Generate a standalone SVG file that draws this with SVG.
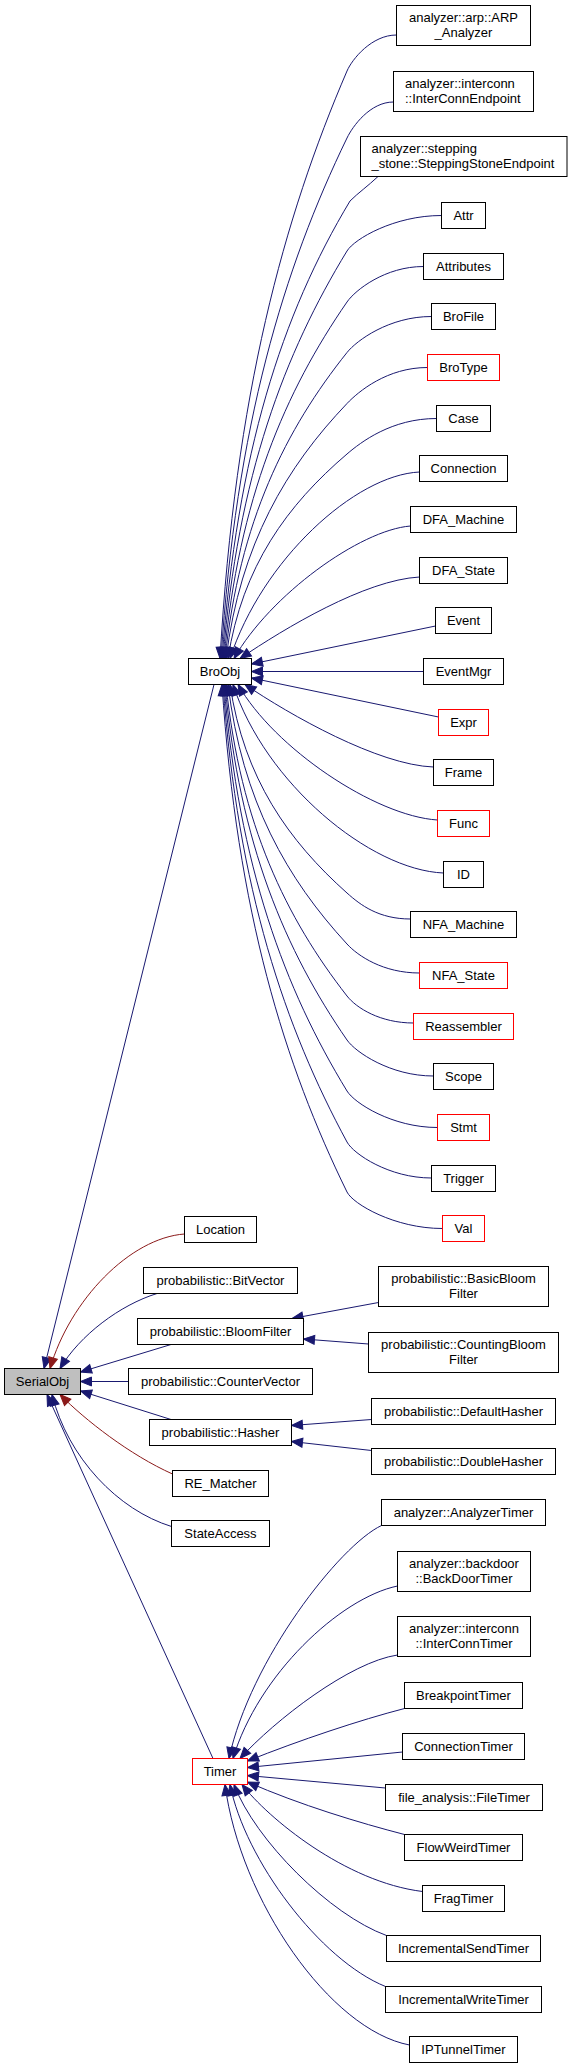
<svg xmlns="http://www.w3.org/2000/svg" width="569" height="2069" viewBox="0 0 569 2069">
<style>
rect{fill:#fff;stroke:#000;stroke-width:1}
.red rect{stroke:#ff0000}
.cur rect{fill:#bfbfbf}
text{font-family:"Liberation Sans",Arial,Helvetica,sans-serif;font-size:13px;fill:#000;text-anchor:middle}
text.l{text-anchor:start}
#edges path{fill:none;stroke:#191970;stroke-width:1;marker-end:url(#ab)}
#edges path.p{stroke:#8b1a1a;marker-end:url(#ar)}
</style>
<defs>
<marker id="ab" markerUnits="userSpaceOnUse" markerWidth="13" markerHeight="11" refX="11.5" refY="5" orient="auto" overflow="visible"><path d="M0.5,0.5 L11.5,5 L0.5,9.5 z" fill="#191970" stroke="#191970"/></marker>
<marker id="ar" markerUnits="userSpaceOnUse" markerWidth="13" markerHeight="11" refX="11.5" refY="5" orient="auto" overflow="visible"><path d="M0.5,0.5 L11.5,5 L0.5,9.5 z" fill="#8b1a1a" stroke="#8b1a1a"/></marker>
</defs>
<rect x="0" y="0" width="569" height="2069" style="fill:#fff;stroke:none"/>
<g id="edges">
<path d="M396.5,35 C371.75,35 352.2,59 347,71 C283.9,217.75 235.2,393.8 220,658.5"/>
<path d="M393.5,102 C370.25,102 352.8,126 347,138 C284,268 236.1,424 221,658.5"/>
<path d="M378,176.5 C368,186 358,193 350,201 C281.6,315 237.4,452.3 222,658.5"/>
<path d="M441.5,215.5 C394.25,215.5 354.3,239 347,251 C284.9,352.75 237.9,474.85 223,658.5"/>
<path d="M423.5,266.5 C385.25,266.5 355.3,290 347,302 C285.6,391 238.8,497.8 224,658.5"/>
<path d="M431.5,316.5 C389.25,316.5 356.6,340.5 347,352.5 C286,429 239.6,520.7 225,658.5"/>
<path d="M427.5,367.5 C387.25,367.5 358.4,391.5 347,403.5 C286.5,467 240.5,543.4 226,658.5"/>
<path d="M436.5,418.5 C391.75,418.5 361,442 347,454 C287.3,505 242.3,566.2 228,658.5"/>
<path d="M419.5,472 C355,475 262,560 230,658.5"/>
<path d="M410.5,526 C360,530 270,595 234,658.5"/>
<path d="M419.5,577 C365,580 285,628 240,658.5"/>
<path d="M435.5,626 L251.5,664"/>
<path d="M423.5,671.5 L251.5,671.5"/>
<path d="M438.5,717 L251.5,678"/>
<path d="M433.5,767 C378,765 290,715 245,684.5"/>
<path d="M437.5,820 C375,816 274,748 238,684.5"/>
<path d="M443.5,873 C370,870 265,783 233,684.5"/>
<path d="M410.5,919 C378.75,919 360.4,905 347,893 C288.7,841 244,778.6 230,684.5"/>
<path d="M419.5,973 C383.25,973 358,956 347,944 C287.4,879.25 242.3,801.6 228,684.5"/>
<path d="M413.5,1023 C380.25,1023 356.4,1008 347,996 C286.4,918.25 240.5,825 226,684.5"/>
<path d="M433.5,1076 C390.25,1076 355.3,1052 347,1040 C285.8,951.25 239.6,844.75 225,684.5"/>
<path d="M437.5,1127.5 C392.25,1127.5 354.3,1103 347,1091 C285.1,989.5 238.8,867.7 224,684.5"/>
<path d="M431.5,1178 C389.25,1178 353.5,1154 347,1142 C285.3,1027.75 237.9,890.65 223,684.5"/>
<path d="M442.5,1228.5 C394.75,1228.5 352.9,1204 347,1192 C284.9,1065.25 237,913.15 222,684.5"/>
<path d="M214,684.5 L44,1368.5"/>
<path class="p" d="M184.5,1234 C130,1238 70,1300 50,1368.5"/>
<path d="M157,1293.5 C120,1305 80,1335 60,1368.5"/>
<path d="M171,1344.5 L80.5,1372"/>
<path d="M128.5,1381.5 L80.5,1381.5"/>
<path d="M171,1419.5 L80.5,1391"/>
<path class="p" d="M172.5,1474 C130,1455 85,1420 60,1394.5"/>
<path d="M171.5,1526.5 C118,1510 68,1458 52,1394.5"/>
<path d="M213,1758.5 L47,1394.5"/>
<path d="M378.5,1302.5 L292,1318.5"/>
<path d="M368.5,1344 L303.5,1339"/>
<path d="M371.5,1419.5 L291.5,1425.5"/>
<path d="M371.5,1450.5 L291.5,1441.5"/>
<path d="M381.5,1525.5 C340,1545 250,1660 229,1758.5"/>
<path d="M397.5,1586 C340,1598 258,1675 233,1758.5"/>
<path d="M397.5,1655 C350,1662 275,1720 240,1758.5"/>
<path d="M404.5,1708.5 C360,1720 300,1740 247.5,1761"/>
<path d="M402.5,1752 L247.5,1767.5"/>
<path d="M385.5,1788 L247.5,1775.5"/>
<path d="M404.5,1834.5 C360,1823 300,1805 247.5,1782"/>
<path d="M422.5,1891.5 C345,1882 268,1818 242,1784.5"/>
<path d="M386.5,1935.5 C330,1915 255,1840 234,1784.5"/>
<path d="M385.5,1986.5 C320,1960 245,1860 230,1784.5"/>
<path d="M409.5,2045 C330,2030 240,1900 225,1784.5"/>
</g>
<g id="SerialObj" class="cur"><rect x="4.5" y="1368.5" width="76" height="26"/><text x="42.5" y="1386">SerialObj</text></g>
<g id="BroObj"><rect x="188.5" y="658.5" width="63" height="26"/><text x="220" y="676">BroObj</text></g>
<g id="ARP_Analyzer"><rect x="396.5" y="5.5" width="134" height="40"/><text x="463.5" y="21.5">analyzer::arp::ARP</text><text x="463.5" y="36.5">_Analyzer</text></g>
<g id="InterConnEndpoint"><rect x="393.5" y="71.5" width="140" height="40"/><text class="l" x="405" y="87.5">analyzer::interconn</text><text class="l" x="405" y="102.5">::InterConnEndpoint</text></g>
<g id="SteppingStoneEndpoint"><rect x="360.5" y="136.5" width="206.5" height="40"/><text class="l" x="371.5" y="152.5">analyzer::stepping</text><text class="l" x="371.5" y="167.5">_stone::SteppingStoneEndpoint</text></g>
<g id="Attr"><rect x="441.5" y="202.5" width="44" height="26"/><text x="463.5" y="220">Attr</text></g>
<g id="Attributes"><rect x="423.5" y="253.5" width="80" height="26"/><text x="463.5" y="271">Attributes</text></g>
<g id="BroFile"><rect x="431.5" y="303.5" width="64" height="26"/><text x="463.5" y="321">BroFile</text></g>
<g id="BroType" class="red"><rect x="427.5" y="354.5" width="72" height="26"/><text x="463.5" y="372">BroType</text></g>
<g id="Case"><rect x="436.5" y="405.5" width="54" height="26"/><text x="463.5" y="423">Case</text></g>
<g id="Connection"><rect x="419.5" y="455.5" width="88" height="26"/><text x="463.5" y="473">Connection</text></g>
<g id="DFA_Machine"><rect x="410.5" y="506.5" width="106" height="26"/><text x="463.5" y="524">DFA_Machine</text></g>
<g id="DFA_State"><rect x="419.5" y="557.5" width="88" height="26"/><text x="463.5" y="575">DFA_State</text></g>
<g id="Event"><rect x="435.5" y="607.5" width="56" height="26"/><text x="463.5" y="625">Event</text></g>
<g id="EventMgr"><rect x="423.5" y="658.5" width="80" height="26"/><text x="463.5" y="676">EventMgr</text></g>
<g id="Expr" class="red"><rect x="438.5" y="709.5" width="50" height="26"/><text x="463.5" y="727">Expr</text></g>
<g id="Frame"><rect x="433.5" y="759.5" width="60" height="26"/><text x="463.5" y="777">Frame</text></g>
<g id="Func" class="red"><rect x="437.5" y="810.5" width="52" height="26"/><text x="463.5" y="828">Func</text></g>
<g id="ID"><rect x="443.5" y="861.5" width="40" height="26"/><text x="463.5" y="879">ID</text></g>
<g id="NFA_Machine"><rect x="410.5" y="911.5" width="106" height="26"/><text x="463.5" y="929">NFA_Machine</text></g>
<g id="NFA_State" class="red"><rect x="419.5" y="962.5" width="88" height="26"/><text x="463.5" y="980">NFA_State</text></g>
<g id="Reassembler" class="red"><rect x="413.5" y="1013.5" width="100" height="26"/><text x="463.5" y="1031">Reassembler</text></g>
<g id="Scope"><rect x="433.5" y="1063.5" width="60" height="26"/><text x="463.5" y="1081">Scope</text></g>
<g id="Stmt" class="red"><rect x="437.5" y="1114.5" width="52" height="26"/><text x="463.5" y="1132">Stmt</text></g>
<g id="Trigger"><rect x="431.5" y="1165.5" width="64" height="26"/><text x="463.5" y="1183">Trigger</text></g>
<g id="Val" class="red"><rect x="442.5" y="1215.5" width="42" height="26"/><text x="463.5" y="1233">Val</text></g>
<g id="Location"><rect x="184.5" y="1216.5" width="72" height="26"/><text x="220.5" y="1234">Location</text></g>
<g id="BitVector"><rect x="143.5" y="1267.5" width="154" height="26"/><text x="220.5" y="1285">probabilistic::BitVector</text></g>
<g id="BloomFilter"><rect x="137.5" y="1318.5" width="166" height="26"/><text x="220.5" y="1336">probabilistic::BloomFilter</text></g>
<g id="CounterVector"><rect x="128.5" y="1368.5" width="184" height="26"/><text x="220.5" y="1386">probabilistic::CounterVector</text></g>
<g id="Hasher"><rect x="149.5" y="1419.5" width="142" height="26"/><text x="220.5" y="1437">probabilistic::Hasher</text></g>
<g id="RE_Matcher"><rect x="172.5" y="1470.5" width="96" height="26"/><text x="220.5" y="1488">RE_Matcher</text></g>
<g id="StateAccess"><rect x="171.5" y="1520.5" width="98" height="26"/><text x="220.5" y="1538">StateAccess</text></g>
<g id="Timer" class="red"><rect x="192.5" y="1758.5" width="55" height="26"/><text x="220" y="1776">Timer</text></g>
<g id="BasicBloomFilter"><rect x="378.5" y="1266.5" width="170" height="40"/><text x="463.5" y="1282.5">probabilistic::BasicBloom</text><text x="463.5" y="1297.5">Filter</text></g>
<g id="CountingBloomFilter"><rect x="368.5" y="1332.5" width="190" height="40"/><text x="463.5" y="1348.5">probabilistic::CountingBloom</text><text x="463.5" y="1363.5">Filter</text></g>
<g id="DefaultHasher"><rect x="371.5" y="1398.5" width="184" height="26"/><text x="463.5" y="1416">probabilistic::DefaultHasher</text></g>
<g id="DoubleHasher"><rect x="371.5" y="1448.5" width="184" height="26"/><text x="463.5" y="1466">probabilistic::DoubleHasher</text></g>
<g id="AnalyzerTimer"><rect x="381.5" y="1499.5" width="164" height="26"/><text x="463.5" y="1517">analyzer::AnalyzerTimer</text></g>
<g id="BackDoorTimer"><rect x="397.5" y="1551.5" width="133" height="40"/><text x="464" y="1567.5">analyzer::backdoor</text><text x="464" y="1582.5">::BackDoorTimer</text></g>
<g id="InterConnTimer"><rect x="397.5" y="1616.5" width="133" height="40"/><text x="464" y="1632.5">analyzer::interconn</text><text x="464" y="1647.5">::InterConnTimer</text></g>
<g id="BreakpointTimer"><rect x="404.5" y="1682.5" width="118" height="26"/><text x="463.5" y="1700">BreakpointTimer</text></g>
<g id="ConnectionTimer"><rect x="402.5" y="1733.5" width="122" height="26"/><text x="463.5" y="1751">ConnectionTimer</text></g>
<g id="FileTimer"><rect x="385.5" y="1784.5" width="157" height="26"/><text x="464" y="1802">file_analysis::FileTimer</text></g>
<g id="FlowWeirdTimer"><rect x="404.5" y="1834.5" width="118" height="26"/><text x="463.5" y="1852">FlowWeirdTimer</text></g>
<g id="FragTimer"><rect x="422.5" y="1885.5" width="82" height="26"/><text x="463.5" y="1903">FragTimer</text></g>
<g id="IncrementalSendTimer"><rect x="386.5" y="1935.5" width="154" height="26"/><text x="463.5" y="1953">IncrementalSendTimer</text></g>
<g id="IncrementalWriteTimer"><rect x="385.5" y="1986.5" width="156" height="26"/><text x="463.5" y="2004">IncrementalWriteTimer</text></g>
<g id="IPTunnelTimer"><rect x="409.5" y="2036.5" width="108" height="26"/><text x="463.5" y="2054">IPTunnelTimer</text></g>
</svg>
